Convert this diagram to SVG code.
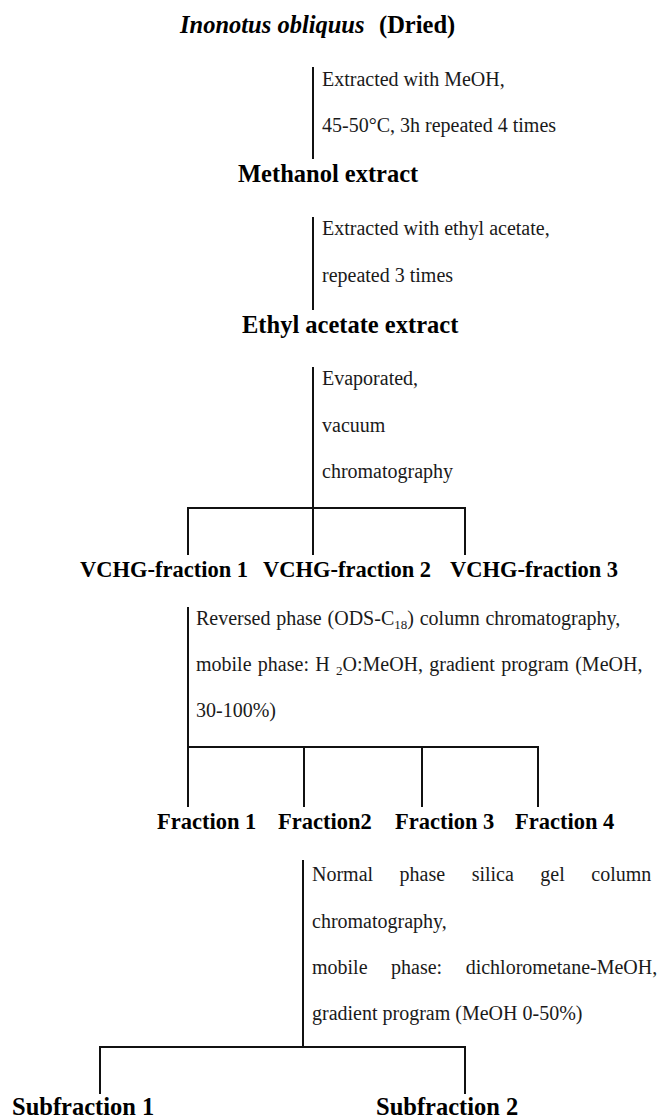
<svg xmlns="http://www.w3.org/2000/svg" width="659" height="1119" viewBox="0 0 659 1119">
<style>
  .bg{fill:#ffffff}
  .ln{stroke:#111;stroke-width:2;fill:none;stroke-linecap:butt}
  .t{font-family:"Liberation Serif","Times New Roman",serif;font-size:20px;fill:#1a1a1a}
  .b{font-family:"Liberation Serif","Times New Roman",serif;font-size:24.5px;font-weight:bold;fill:#000}
  .bs{font-family:"Liberation Serif","Times New Roman",serif;font-size:22.5px;font-weight:bold;fill:#000}
  .sub{font-size:13px}
</style>
<rect class="bg" x="0" y="0" width="659" height="1119"/>

<g id="connectors">
  <line class="ln" x1="313" y1="67" x2="313" y2="159"/>
  <line class="ln" x1="313" y1="217" x2="313" y2="310"/>
  <line class="ln" x1="313" y1="367" x2="313" y2="508"/>
  <polyline class="ln" points="188,555 188,508 465,508 465,555"/>
  <line class="ln" x1="313" y1="508" x2="313" y2="555"/>
  <line class="ln" x1="188" y1="607" x2="188" y2="807"/>
  <polyline class="ln" points="188,747 538,747 538,807"/>
  <line class="ln" x1="304" y1="747" x2="304" y2="807"/>
  <line class="ln" x1="422" y1="747" x2="422" y2="807"/>
  <line class="ln" x1="303" y1="860" x2="303" y2="1047"/>
  <polyline class="ln" points="100,1094 100,1047 465,1047 465,1094"/>
</g>

<g id="step-labels">
  <g id="label-meoh">
    <text class="t" x="322" y="86">Extracted with MeOH,</text>
    <text class="t" x="322" y="132">45-50°C, 3h repeated 4 times</text>
  </g>
  <g id="label-etoac">
    <text class="t" x="322" y="235">Extracted with ethyl acetate,</text>
    <text class="t" x="322" y="282">repeated 3 times</text>
  </g>
  <g id="label-vacuum">
    <text class="t" x="322" y="385">Evaporated,</text>
    <text class="t" x="322" y="432">vacuum</text>
    <text class="t" x="322" y="478">chromatography</text>
  </g>
  <g id="label-reversed">
    <text class="t" x="196" y="625" word-spacing="0.8">Reversed phase (ODS-C<tspan class="sub" dy="4">18</tspan><tspan dy="-4">) column chromatography,</tspan></text>
    <text class="t" x="196" y="671" word-spacing="1.3">mobile phase: H <tspan class="sub" dy="4">2</tspan><tspan dy="-4">O:MeOH, gradient program (MeOH,</tspan></text>
    <text class="t" x="196" y="717">30-100%)</text>
  </g>
  <g id="label-normal">
    <text class="t" x="312" y="881" word-spacing="21.5">Normal phase silica gel column</text>
    <text class="t" x="312" y="928">chromatography,</text>
    <text class="t" x="312" y="974" word-spacing="18.5">mobile phase: dichlorometane-MeOH,</text>
    <text class="t" x="312" y="1020">gradient program (MeOH 0-50%)</text>
  </g>
</g>

<g id="node-inonotus">
  <text class="b" x="180" y="33"><tspan font-style="italic">Inonotus obliquus</tspan></text>
  <text class="b" x="379" y="33">(Dried)</text>
</g>
<g id="node-methanol"><text class="b" x="238" y="182">Methanol extract</text></g>
<g id="node-ethyl"><text class="b" x="242" y="333">Ethyl acetate extract</text></g>
<g id="node-vchg1"><text class="bs" x="80" y="577">VCHG-fraction 1</text></g>
<g id="node-vchg2"><text class="bs" x="263" y="577">VCHG-fraction 2</text></g>
<g id="node-vchg3"><text class="bs" x="450" y="577">VCHG-fraction 3</text></g>
<g id="node-f1"><text class="bs" x="157" y="829">Fraction 1</text></g>
<g id="node-f2"><text class="bs" x="278" y="829">Fraction2</text></g>
<g id="node-f3"><text class="bs" x="395" y="829">Fraction 3</text></g>
<g id="node-f4"><text class="bs" x="515" y="829">Fraction 4</text></g>
<g id="node-sub1"><text class="b" x="12" y="1115">Subfraction 1</text></g>
<g id="node-sub2"><text class="b" x="376" y="1115">Subfraction 2</text></g>
</svg>
